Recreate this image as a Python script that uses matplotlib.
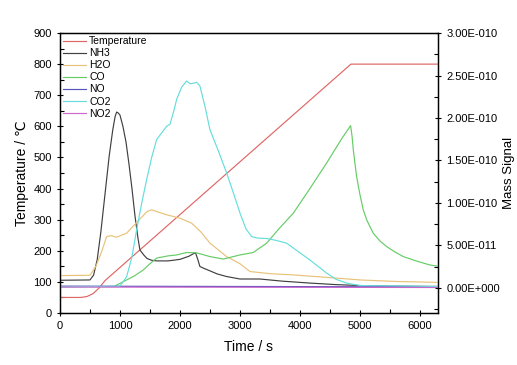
import matplotlib
matplotlib.use("Agg")
import matplotlib.pyplot as plt
from matplotlib.ticker import MultipleLocator, FuncFormatter

plt.rcParams['font.family'] = ['Liberation Sans', 'DejaVu Sans']

SCALE = 1e-11  # mass-signal values below are in units of 1e-11

temp_t = [0, 350, 450, 550, 650, 750, 4850, 6300]
temp_v = [50, 50, 53, 62, 80, 104, 800, 800]

nh3_t = [0, 500, 560, 620, 680, 750, 820, 880, 920, 945, 970, 1000, 1050, 1100, 1150, 1200, 1250,
         1300, 1333, 1400, 1450, 1530, 1611, 1800, 2000, 2150, 2222, 2260, 2300, 2333, 2400, 2500,
         2620, 2778, 3000, 3333, 3700, 4167, 4600, 5000, 5500, 6300]
nh3_v = [0.90, 0.94, 1.5, 3.3, 6.5, 11.0, 15.5, 18.6, 20.2, 20.7, 20.6, 20.35, 19.0, 17.2, 14.6, 11.7, 8.5,
         5.86, 4.46, 3.85, 3.47, 3.25, 3.18, 3.18, 3.36, 3.73, 4.02, 4.13, 3.3, 2.52, 2.3, 2.01,
         1.65, 1.34, 1.05, 1.05, 0.80, 0.57, 0.39, 0.28, 0.21, 0.17]

h2o_t = [0, 500, 600, 700, 778, 850, 945, 1111, 1300, 1450, 1528, 1650, 1778, 2000, 2195, 2350,
         2500, 2778, 3000, 3167, 3500, 3889, 4400, 5000, 5600, 6300]
h2o_v = [1.45, 1.49, 2.56, 4.39, 6.04, 6.15, 5.97, 6.44, 7.87, 8.98, 9.20, 8.90, 8.61, 8.21, 7.62, 6.59,
         5.27, 3.69, 2.85, 1.93, 1.68, 1.53, 1.27, 0.94, 0.76, 0.65]

co_t = [0, 900, 1111, 1250, 1389, 1500, 1611, 1800, 1945, 2111, 2278, 2500, 2722, 3000, 3222, 3445,
        3650, 3889, 4167, 4445, 4700, 4845, 4870, 4889, 4920, 4945, 5000, 5055, 5120, 5222, 5330,
        5445, 5580, 5722, 5950, 6167, 6300]
co_v = [0.13, 0.17, 0.94, 1.45, 2.12, 2.85, 3.51, 3.77, 3.88, 4.17, 4.13, 3.69, 3.40, 3.88, 4.17, 5.27,
        6.96, 8.79, 11.7, 14.7, 17.6, 19.1, 17.8, 16.3, 14.5, 13.1, 11.0, 9.2, 7.9, 6.45, 5.55,
        4.87, 4.25, 3.69, 3.15, 2.70, 2.56]

no_t = [0, 3000, 6300]
no_v = [0.21, 0.17, 0.12]

co2_t = [0, 1000, 1111, 1200, 1278, 1360, 1445, 1530, 1611, 1700, 1778, 1833, 1900, 1945, 2030, 2111,
         2170, 2222, 2280, 2333, 2420, 2500, 2640, 2778, 2900, 3000, 3100, 3195, 3300, 3445, 3600,
         3778, 3950, 4167, 4445, 4600, 4778, 5000, 6300]
co2_v = [0.13, 0.21, 1.31, 3.66, 6.85, 9.89, 12.75, 15.4, 17.45, 18.3, 19.03, 19.25, 20.9, 22.19, 23.65, 24.35,
         24.02, 24.09, 24.2, 23.76, 21.27, 18.63, 16.13, 13.53, 10.99, 8.83, 6.96, 6.04, 5.86, 5.82, 5.60,
         5.27, 4.39, 3.29, 1.75, 1.02, 0.57, 0.28, 0.17]

no2_t = [0, 3000, 6300]
no2_v = [0.10, 0.08, 0.05]

fig = plt.figure(figsize=(5.17, 3.65), dpi=100)
ax = fig.add_axes([0.116, 0.1425, 0.731, 0.767])
ax2 = ax.twinx()

lw = 0.85
l_temp, = ax.plot(temp_t, temp_v, color='#E06666', lw=lw, label='Temperature')
sc = lambda v: [x * SCALE for x in v]
l_nh3, = ax2.plot(nh3_t, sc(nh3_v), color='#404040', lw=lw, label='NH3')
l_h2o, = ax2.plot(h2o_t, sc(h2o_v), color='#E8C27A', lw=lw, label='H2O')
l_co, = ax2.plot(co_t, sc(co_v), color='#66CC66', lw=lw, label='CO')
l_no, = ax2.plot(no_t, sc(no_v), color='#5555BB', lw=lw, label='NO')
l_co2, = ax2.plot(co2_t, sc(co2_v), color='#66DDDD', lw=lw, label='CO2')
l_no2, = ax2.plot(no2_t, sc(no2_v), color='#CC66CC', lw=lw, label='NO2')

ax.set_xlim(0, 6300)
ax.set_ylim(0, 900)
ax2.set_ylim(-2.95e-11, 3.0e-10)

ax.xaxis.set_major_locator(MultipleLocator(1000))
ax.xaxis.set_minor_locator(MultipleLocator(500))
ax.yaxis.set_major_locator(MultipleLocator(100))
ax.yaxis.set_minor_locator(MultipleLocator(50))
ax2.yaxis.set_major_locator(MultipleLocator(5e-11))
ax2.yaxis.set_minor_locator(MultipleLocator(2.5e-11))

def fmt(v, pos):
    if abs(v) < 1e-20:
        return '0.00E+000'
    s = f"{v:.2E}"
    m, e = s.split('E')
    sign = e[0]
    return f"{m}E{sign}{int(e[1:]):03d}"

ax2.yaxis.set_major_formatter(FuncFormatter(fmt))
ax2.yaxis.get_offset_text().set_visible(False)
ax.yaxis.get_offset_text().set_visible(False)

for a in (ax, ax2):
    a.tick_params(which='major', direction='inout', length=5, width=0.8, labelsize=8)
    a.tick_params(which='minor', direction='in', length=3, width=0.8)
    for s in a.spines.values():
        s.set_linewidth(0.9)

ax.set_xlabel('Time / s', fontsize=10, labelpad=6)
ax.set_ylabel('Temperature / ℃', fontsize=10, labelpad=3)
ax2.set_ylabel('Mass Signal', fontsize=9.5, labelpad=2)

handles = [l_temp, l_nh3, l_h2o, l_co, l_no, l_co2, l_no2]
ax.legend(handles, [h.get_label() for h in handles], loc='upper left', frameon=False,
          fontsize=7.5, handlelength=2.2, labelspacing=0.2, borderaxespad=0.1,
          handletextpad=0.3, borderpad=0.2)

fig.savefig('out.png', dpi=100)
